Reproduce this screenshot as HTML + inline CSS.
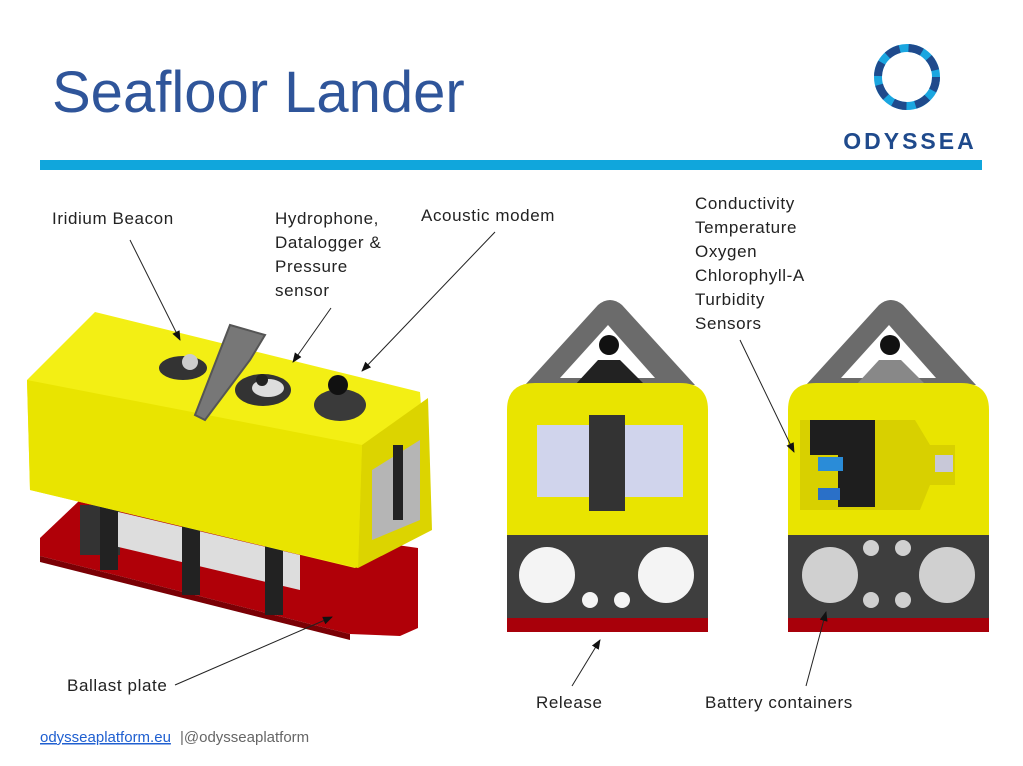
<!DOCTYPE html>
<html><head><meta charset="utf-8"><style>
html,body{margin:0;padding:0;background:#fff;}
body{width:1023px;height:766px;overflow:hidden;position:relative;font-family:"Liberation Sans",sans-serif;}
svg{position:absolute;left:0;top:0;}
</style></head><body>
<svg width="1023" height="766" viewBox="0 0 1023 766" xmlns="http://www.w3.org/2000/svg">
<defs>
<marker id="ah" markerWidth="10" markerHeight="10" refX="9" refY="5" orient="auto" markerUnits="userSpaceOnUse">
<path d="M0,1 L10,5 L0,9 Z" fill="#111"/></marker>
</defs>
<text x="52" y="112" font-size="58" fill="#2f559a" font-family="Liberation Sans, sans-serif">Seafloor Lander</text>
<rect x="40" y="160" width="942" height="10" fill="#10a6dc"/>
<!-- logo -->
<g fill="none" stroke-width="8">
<circle cx="907" cy="77" r="29" stroke="#1aa6e0"/>
<circle cx="907" cy="77" r="29" stroke="#1f4a8c" stroke-dasharray="14 9"/>
</g>
<text x="910" y="149" font-size="23" font-weight="bold" fill="#1f4a8c" text-anchor="middle" letter-spacing="3">ODYSSEA</text>

<!-- left lander -->
<polygon points="40,538 80,500 418,548 418,628 400,636 350,634 40,556" fill="#b00008"/>
<polygon points="40,556 350,634 350,640 40,562" fill="#7a0005"/>
<rect x="80" y="505" width="40" height="50" fill="#333"/>
<polygon points="110,510 300,555 300,590 110,545" fill="#ddd"/>
<rect x="100" y="500" width="18" height="70" fill="#222"/>
<rect x="182" y="520" width="18" height="75" fill="#222"/>
<rect x="265" y="545" width="18" height="70" fill="#222"/>
<polygon points="27,380 95,312 420,392 430,530 355,568 30,490" fill="#f3ef14"/>
<polygon points="27,380 362,445 358,568 30,490" fill="#e9e400"/>
<polygon points="362,445 428,398 432,530 358,568" fill="#dcd400"/>
<polygon points="372,470 420,440 420,520 372,540" fill="#b5b5b5"/>
<rect x="393" y="445" width="10" height="75" fill="#222"/>
<ellipse cx="183" cy="368" rx="24" ry="12" fill="#333"/>
<circle cx="190" cy="362" r="8" fill="#ccc"/>
<ellipse cx="263" cy="390" rx="28" ry="16" fill="#333"/>
<ellipse cx="268" cy="388" rx="16" ry="9" fill="#ddd"/>
<circle cx="262" cy="380" r="6" fill="#222"/>
<ellipse cx="340" cy="405" rx="26" ry="16" fill="#3a3a3a"/>
<circle cx="338" cy="385" r="10" fill="#111"/>
<path d="M195,415 L230,325 L265,335 L250,360 L205,420 Z" fill="#777" stroke="#555" stroke-width="2"/>

<!-- middle lander -->
<path d="M525,385 L598,305 Q610,295 622,305 L695,385 Z" fill="#6b6b6b"/>
<path d="M560,378 L608,325 L655,378 Z" fill="#fff"/>
<path d="M575,385 L598,360 L620,360 L645,385 Z" fill="#222"/>
<circle cx="609" cy="345" r="10" fill="#111"/>
<path d="M507,410 Q507,383 535,383 L680,383 Q708,383 708,410 L708,535 L507,535 Z" fill="#e9e400"/>
<rect x="537" y="425" width="146" height="72" fill="#d0d4ec"/>
<rect x="589" y="415" width="36" height="96" fill="#333"/>
<rect x="507" y="535" width="201" height="83" fill="#3e3e3e"/>
<circle cx="547" cy="575" r="28" fill="#f4f4f4"/>
<circle cx="666" cy="575" r="28" fill="#f4f4f4"/>
<circle cx="590" cy="600" r="8" fill="#f4f4f4"/>
<circle cx="622" cy="600" r="8" fill="#f4f4f4"/>
<rect x="507" y="618" width="201" height="14" fill="#a8000a"/>

<!-- right lander -->
<path d="M806,385 L879,305 Q891,295 903,305 L976,385 Z" fill="#6b6b6b"/>
<path d="M841,378 L889,325 L936,378 Z" fill="#fff"/>
<path d="M856,385 L879,360 L901,360 L926,385 Z" fill="#888"/>
<circle cx="890" cy="345" r="10" fill="#111"/>
<path d="M788,410 Q788,383 816,383 L961,383 Q989,383 989,410 L989,535 L788,535 Z" fill="#e9e400"/>
<path d="M800,420 L915,420 L930,445 L955,445 L955,485 L930,485 L920,510 L800,510 Z" fill="#d8d000"/>
<rect x="810" y="420" width="65" height="35" fill="#1e1e1e"/>
<rect x="838" y="455" width="37" height="52" fill="#1e1e1e"/>
<rect x="818" y="457" width="25" height="14" fill="#2a8cd8"/>
<rect x="818" y="488" width="22" height="12" fill="#2a70c8"/>
<rect x="935" y="455" width="18" height="17" fill="#c8c8d8"/>
<rect x="788" y="535" width="201" height="83" fill="#3e3e3e"/>
<circle cx="830" cy="575" r="28" fill="#d0d0d0"/>
<circle cx="947" cy="575" r="28" fill="#d0d0d0"/>
<circle cx="871" cy="548" r="8" fill="#d0d0d0"/>
<circle cx="903" cy="548" r="8" fill="#d0d0d0"/>
<circle cx="871" cy="600" r="8" fill="#d0d0d0"/>
<circle cx="903" cy="600" r="8" fill="#d0d0d0"/>
<rect x="788" y="618" width="201" height="14" fill="#a8000a"/>

<!-- labels -->
<g font-family="Liberation Sans, DejaVu Sans, sans-serif" font-size="17" fill="#222" letter-spacing="0.6">
<text x="52" y="224">Iridium Beacon</text>
<text x="275" y="224">Hydrophone,</text>
<text x="275" y="248">Datalogger &amp;</text>
<text x="275" y="272">Pressure</text>
<text x="275" y="296">sensor</text>
<text x="421" y="221">Acoustic modem</text>
<text x="695" y="209">Conductivity</text>
<text x="695" y="233">Temperature</text>
<text x="695" y="257">Oxygen</text>
<text x="695" y="281">Chlorophyll-A</text>
<text x="695" y="305">Turbidity</text>
<text x="695" y="329">Sensors</text>
<text x="67" y="691">Ballast plate</text>
<text x="536" y="708">Release</text>
<text x="705" y="708">Battery containers</text>
</g>
<g stroke="#222" stroke-width="1" marker-end="url(#ah)">
<line x1="130" y1="240" x2="180" y2="340"/>
<line x1="331" y1="308" x2="293" y2="362"/>
<line x1="495" y1="232" x2="362" y2="371"/>
<line x1="175" y1="685" x2="332" y2="617"/>
<line x1="572" y1="686" x2="600" y2="640"/>
<line x1="806" y1="686" x2="826" y2="612"/>
<line x1="740" y1="340" x2="794" y2="452"/>
</g>
<text x="40" y="742" font-size="15" fill="#1f5fd0" text-decoration="underline">odysseaplatform.eu</text>
<text x="180" y="742" font-size="15" fill="#666">|@odysseaplatform</text>
</svg>
</body></html>
